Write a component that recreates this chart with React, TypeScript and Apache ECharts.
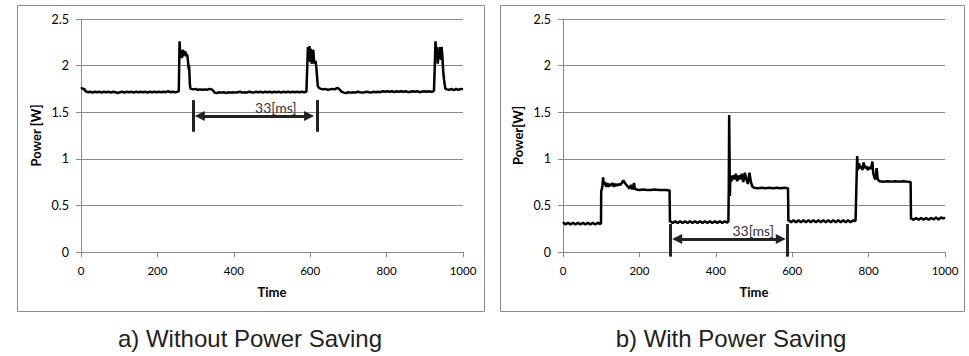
import React, { useEffect, useRef } from "react";
import * as echarts from "echarts";

// ---- data ----
const timeTicks = [0, 200, 400, 600, 800, 1000];
const powerTicks = [0, 0.5, 1, 1.5, 2, 2.5];

const leftTrace: number[][] = [
  [0, 1.75], [3, 1.76], [6, 1.745], [9, 1.75], [12, 1.725], [18, 1.715], [24, 1.72], [30, 1.71], [36, 1.72], [42, 1.715],
  [48, 1.72], [54, 1.71], [60, 1.72], [66, 1.715], [72, 1.72], [78, 1.71], [84, 1.72], [90, 1.715], [96, 1.705], [102, 1.715],
  [108, 1.72], [114, 1.71], [120, 1.72], [126, 1.715], [132, 1.72], [138, 1.71], [144, 1.72], [150, 1.715], [156, 1.72], [162, 1.715],
  [168, 1.72], [174, 1.71], [180, 1.72], [186, 1.715], [192, 1.72], [198, 1.715], [204, 1.72], [210, 1.715], [216, 1.72], [222, 1.715],
  [228, 1.725], [234, 1.715], [240, 1.72], [246, 1.715], [252, 1.72], [256, 1.725],
  [257, 2.0], [258, 2.26], [260, 2.1], [262, 2.15], [264, 2.08], [266, 2.17], [268, 2.1], [270, 2.16], [272, 2.12], [274, 2.15],
  [276, 2.1], [278, 2.12], [280, 2.05], [282, 1.96], [283, 2.0], [285, 1.8], [286, 1.76],
  [288, 1.75], [294, 1.745], [300, 1.75], [306, 1.74], [312, 1.745], [318, 1.74], [324, 1.745], [330, 1.74], [336, 1.75], [342, 1.745],
  [346, 1.73], [350, 1.71], [356, 1.705], [362, 1.715], [368, 1.71], [374, 1.715], [380, 1.705], [386, 1.715], [392, 1.71], [398, 1.715],
  [404, 1.71], [410, 1.715], [416, 1.72], [422, 1.71], [428, 1.715], [434, 1.71], [440, 1.72], [446, 1.715], [452, 1.71], [458, 1.72],
  [464, 1.715], [470, 1.72], [476, 1.71], [482, 1.72], [488, 1.715], [494, 1.72], [500, 1.71], [506, 1.72], [512, 1.715], [518, 1.72],
  [524, 1.71], [530, 1.72], [536, 1.715], [542, 1.72], [548, 1.715], [554, 1.72], [560, 1.715], [566, 1.72], [572, 1.715], [578, 1.72],
  [584, 1.715], [590, 1.72],
  [592, 1.95], [594, 2.2], [596, 2.12], [598, 2.21], [600, 2.04], [602, 2.18], [604, 2.02], [606, 2.08], [608, 2.17], [610, 2.06],
  [612, 2.02], [614, 2.05], [616, 1.98], [618, 1.88], [620, 1.78], [623, 1.76],
  [628, 1.75], [634, 1.745], [640, 1.75], [646, 1.74], [652, 1.745], [658, 1.75], [664, 1.745], [670, 1.76], [674, 1.755], [678, 1.74],
  [682, 1.72], [688, 1.71], [694, 1.705], [700, 1.715], [706, 1.71], [712, 1.715], [718, 1.71], [724, 1.72], [730, 1.715], [736, 1.71],
  [742, 1.715], [748, 1.72], [754, 1.715], [760, 1.71], [766, 1.72], [772, 1.715], [778, 1.72], [784, 1.715], [790, 1.725], [796, 1.72],
  [802, 1.725], [808, 1.72], [814, 1.725], [820, 1.715], [826, 1.725], [832, 1.72], [838, 1.725], [844, 1.72], [850, 1.725], [856, 1.715],
  [862, 1.72], [868, 1.725], [874, 1.72], [880, 1.725], [886, 1.715], [892, 1.72], [898, 1.725], [904, 1.72], [910, 1.725], [916, 1.72],
  [920, 1.72], [924, 1.73],
  [926, 1.98], [928, 2.26], [930, 2.08], [932, 2.2], [934, 2.02], [936, 2.17], [938, 2.08], [940, 2.2], [942, 2.06], [944, 2.2],
  [946, 2.1], [948, 1.95], [950, 1.86], [952, 1.8], [954, 1.75], [958, 1.745], [964, 1.74], [970, 1.75], [976, 1.735], [982, 1.75],
  [988, 1.74], [994, 1.75], [1000, 1.745],
];

const rightTrace: number[][] = [
  [0, 0.32], [6.5, 0.295], [13, 0.315], [19.5, 0.295], [26, 0.315], [32.5, 0.295], [39, 0.315], [45.5, 0.295], [52, 0.315], [58.5, 0.295],
  [65, 0.315], [71.5, 0.295], [78, 0.315], [84.5, 0.295], [91, 0.315], [97.5, 0.3], [99.5, 0.31],
  [100, 0.65], [103, 0.7], [105, 0.8], [107, 0.72], [110, 0.75], [113, 0.7], [116, 0.74], [119, 0.7], [122, 0.73], [126, 0.71],
  [130, 0.74], [134, 0.7], [138, 0.73], [142, 0.71], [146, 0.73], [150, 0.72], [154, 0.74], [158, 0.77], [162, 0.74], [166, 0.72],
  [170, 0.7], [174, 0.68], [178, 0.72], [182, 0.67], [186, 0.74], [188, 0.68], [192, 0.67], [200, 0.665], [210, 0.67], [220, 0.665],
  [230, 0.665], [240, 0.67], [250, 0.665], [260, 0.665], [270, 0.665], [279, 0.66],
  [280, 0.32], [281, 0.33], [287, 0.31], [293.5, 0.33], [300, 0.31], [306.5, 0.33], [313, 0.31], [319.5, 0.33], [326, 0.31], [332.5, 0.33],
  [339, 0.31], [345.5, 0.33], [352, 0.31], [358.5, 0.33], [365, 0.31], [371.5, 0.33], [378, 0.31], [384.5, 0.33], [391, 0.31], [397.5, 0.33],
  [404, 0.31], [410.5, 0.33], [417, 0.31], [423.5, 0.33], [430, 0.315], [433, 0.33],
  [434, 0.7], [435, 1.47], [437, 0.6], [438, 0.82], [441, 0.76], [444, 0.82], [448, 0.78], [452, 0.84], [456, 0.76], [460, 0.82],
  [464, 0.78], [468, 0.84], [472, 0.75], [476, 0.85], [480, 0.78], [484, 0.73], [488, 0.85], [492, 0.75], [496, 0.7], [500, 0.69],
  [510, 0.685], [520, 0.69], [530, 0.685], [540, 0.69], [550, 0.685], [560, 0.69], [570, 0.685], [580, 0.69], [589, 0.685],
  [590, 0.33], [591, 0.34], [597, 0.32], [603.5, 0.34], [610, 0.32], [616.5, 0.34], [623, 0.32], [629.5, 0.34], [636, 0.32], [642.5, 0.34],
  [649, 0.32], [655.5, 0.34], [662, 0.32], [668.5, 0.34], [675, 0.32], [681.5, 0.34], [688, 0.32], [694.5, 0.34], [701, 0.32], [707.5, 0.34],
  [714, 0.32], [720.5, 0.34], [727, 0.32], [733.5, 0.34], [740, 0.32], [746.5, 0.34], [753, 0.32], [759.5, 0.34], [765, 0.33],
  [766, 0.35], [768, 0.7], [770, 1.03], [772, 0.88], [775, 0.95], [778, 0.9], [781, 0.92], [784, 0.88], [787, 0.96], [790, 0.9],
  [794, 0.92], [798, 0.88], [802, 0.91], [806, 0.89], [810, 0.97], [812, 0.85], [815, 0.8], [818, 0.78], [821, 0.9], [824, 0.78],
  [828, 0.76], [840, 0.755], [850, 0.76], [860, 0.755], [870, 0.76], [880, 0.755], [890, 0.76], [900, 0.755], [910, 0.75],
  [911, 0.35], [912, 0.36], [918, 0.345], [924.5, 0.365], [931, 0.345], [937.5, 0.365], [944, 0.345], [950.5, 0.365], [957, 0.345],
  [963.5, 0.365], [970, 0.35], [976.5, 0.37], [983, 0.35], [989.5, 0.37], [996, 0.36], [1000, 0.37],
];

// annotation: period markers (x of bars, y-range of bars, arrow y, arrow ends, label point)
const leftBarX = [294, 619];
const leftBarY = [1.29, 1.63];
const leftArrowX = [311, 597];
const leftArrowY = 1.46;
const leftLabel = [510, 1.555];

const rightBarX = [280, 588];
const rightBarY = [-0.05, 0.3];
const rightArrowX = [299, 570];
const rightArrowY = 0.14;
const rightLabel = [498, 0.228];

const periodText = "33[ms]";
const captions = ["a) Without Power Saving", "b) With Power Saving"];
const yNames = ["Power [W]", "Power[W]"];

export default function App() {
  const ref = useRef<HTMLDivElement>(null);

  useEffect(() => {
    if (!ref.current) return;
    const chart = echarts.init(ref.current, undefined, { renderer: "svg" });

    const gray = "#8a8a8a";
    const makeX = (gridIndex: number) => ({
      type: "value",
      gridIndex,
      min: timeTicks[0],
      max: timeTicks[timeTicks.length - 1],
      interval: 200,
      name: "Time",
      nameLocation: "middle",
      nameGap: 33,
      nameTextStyle: { fontFamily: "Lato", fontWeight: "bold", fontSize: 13, color: "#000" },
      axisLine: { show: true, onZero: false, lineStyle: { color: gray, width: 1 } },
      axisTick: { show: true, length: 5, lineStyle: { color: gray } },
      axisLabel: {
        fontFamily: "Lato",
        fontSize: 11.5,
        color: "#000",
        margin: 12,
        formatter: (v: number) => String(v),
      },
      splitLine: { show: false },
    });
    const makeY = (gridIndex: number) => ({
      type: "value",
      gridIndex,
      min: powerTicks[0],
      max: powerTicks[powerTicks.length - 1],
      interval: 0.5,
      name: yNames[gridIndex],
      nameLocation: "middle",
      nameGap: 39,
      nameTextStyle: { fontFamily: "Lato", fontWeight: "bold", fontSize: 13, color: "#000" },
      axisLine: { show: true, lineStyle: { color: gray, width: 1 } },
      axisTick: { show: true, length: 5, lineStyle: { color: gray } },
      axisLabel: {
        fontFamily: "Lato",
        fontSize: 12.5,
        color: "#000",
        margin: 12,
        formatter: (v: number) => String(v),
      },
      splitLine: { show: true, lineStyle: { color: gray, width: 1 } },
    });

    const trace = (idx: number, data: number[][]) => ({
      type: "line",
      xAxisIndex: idx,
      yAxisIndex: idx,
      data,
      showSymbol: false,
      symbol: "none",
      lineStyle: { color: "#000", width: 2.5 },
      z: 3,
    });

    const bars = (idx: number, xs: number[], ys: number[]) => ({
      type: "lines",
      coordinateSystem: "cartesian2d",
      xAxisIndex: idx,
      yAxisIndex: idx,
      clip: false,
      silent: true,
      symbol: ["none", "none"],
      lineStyle: { color: "#222", width: 3, opacity: 1 },
      data: xs.map((x) => ({ coords: [[x, ys[0]], [x, ys[1]]] })),
      z: 5,
    });

    const arrow = (idx: number, xs: number[], y: number) => ({
      type: "lines",
      coordinateSystem: "cartesian2d",
      xAxisIndex: idx,
      yAxisIndex: idx,
      clip: false,
      silent: true,
      symbol: ["triangle", "triangle"],
      symbolSize: 10,
      lineStyle: { color: "#222", width: 3, opacity: 1 },
      data: [{ coords: [[xs[0], y], [xs[1], y]] }],
      z: 5,
    });

    const captionText = (x: number, text: string) => ({
      type: "text",
      x,
      y: 338,
      style: {
        text,
        fill: "#222",
        font: "24px 'Liberation Sans', Arial, sans-serif",
        align: "center",
        verticalAlign: "middle",
      },
    });

    chart.setOption({
      animation: false,
      backgroundColor: "#fff",
      grid: [
        { left: 81, right: 506, top: 19, bottom: 104 },
        { left: 563, right: 24, top: 19, bottom: 104 },
      ],
      xAxis: [makeX(0), makeX(1)],
      yAxis: [makeY(0), makeY(1)],
      series: [
        trace(0, leftTrace),
        trace(1, rightTrace),
        bars(0, leftBarX, leftBarY),
        bars(1, rightBarX, rightBarY),
        arrow(0, leftArrowX, leftArrowY),
        arrow(1, rightArrowX, rightArrowY),
      ],
    });

    // period labels positioned through the axes' scales
    const pL = chart.convertToPixel({ gridIndex: 0 }, leftLabel) as number[];
    const pR = chart.convertToPixel({ gridIndex: 1 }, rightLabel) as number[];
    const periodLabel = (p: number[]) => ({
      type: "text",
      x: p[0],
      y: p[1],
      z: 10,
      style: {
        text: periodText,
        fill: "#333333",
        font: "14px Lato",
        align: "center",
        verticalAlign: "middle",
      },
    });

    chart.setOption({
      graphic: [
        {
          type: "rect",
          silent: true,
          z: -1,
          shape: { x: 17.5, y: 5.5, width: 467, height: 306 },
          style: { fill: "none", stroke: "#8c8c8c", lineWidth: 1 },
        },
        {
          type: "rect",
          silent: true,
          z: -1,
          shape: { x: 500.5, y: 5.5, width: 464, height: 306 },
          style: { fill: "none", stroke: "#8c8c8c", lineWidth: 1 },
        },
        captionText(250, captions[0]),
        captionText(731, captions[1]),
        periodLabel(pL),
        periodLabel(pR),
      ],
    });

    return () => chart.dispose();
  }, []);

  return (
    <div
      ref={ref}
      style={{ position: "absolute", left: 0, top: 0, width: 969, height: 356 }}
    />
  );
}
